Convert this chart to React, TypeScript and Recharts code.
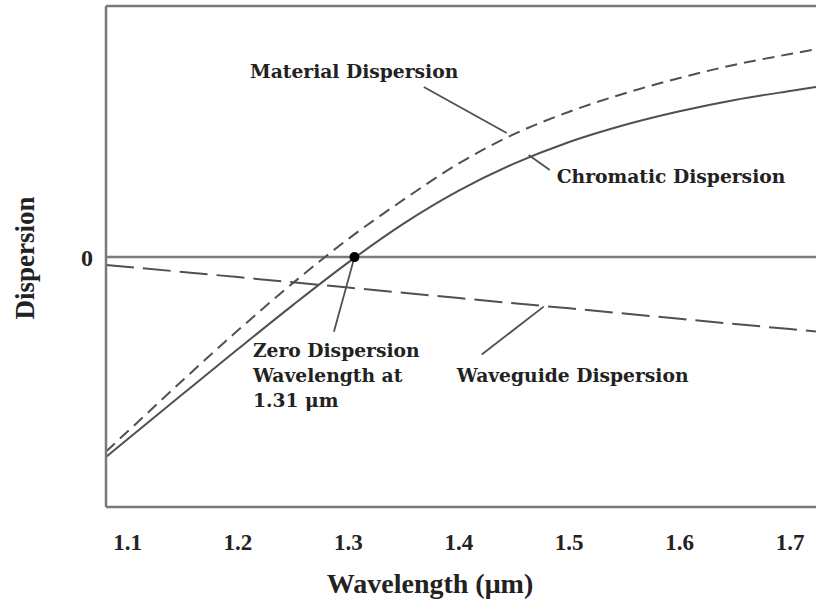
import {
  LineChart,
  Line,
  XAxis,
  YAxis,
  ReferenceLine,
  ReferenceDot,
  Label,
} from "recharts";

// wavelength grid (µm) and curves (arbitrary dispersion units)
const wavelengths = [1.0805, 1.1, 1.15, 1.2, 1.25, 1.3, 1.35, 1.4, 1.45, 1.5, 1.55, 1.6, 1.65, 1.7, 1.7235];
const material = [-7.78, -6.98, -4.93, -2.93, -1.03, 0.73, 2.3, 3.75, 4.92, 5.82, 6.55, 7.17, 7.7, 8.13, 8.32];
const chromatic = [-8.0, -7.29, -5.48, -3.68, -1.91, -0.21, 1.34, 2.66, 3.74, 4.61, 5.29, 5.84, 6.29, 6.65, 6.81];

const waveguideX = [1.0805, 1.2, 1.3, 1.4, 1.5, 1.6, 1.7, 1.7235];
const waveguide = [-0.31, -0.8, -1.22, -1.64, -2.05, -2.47, -2.88, -2.98];

const xTicks = [1.1, 1.2, 1.3, 1.4, 1.5, 1.6, 1.7];
const xDomain = [1.0805, 1.7235];
const yDomain = [-10, 10.05];

const zeroPoint = { x: 1.3055, y: 0 };

// leader lines from labels to curves
const leaders = [
  [{ x: 1.3683, y: 6.81 }, { x: 1.4434, y: 4.97 }],
  [{ x: 1.4633, y: 4.09 }, { x: 1.4824, y: 3.49 }],
  [{ x: 1.3055, y: 0 }, { x: 1.2869, y: -2.99 }],
  [{ x: 1.4208, y: -3.9 }, { x: 1.4769, y: -1.98 }],
];

// annotation text, anchored at left baseline
const notes = [
  { text: "Material Dispersion", x: 1.2109, y: 7.17 },
  { text: "Chromatic Dispersion", x: 1.4887, y: 2.97 },
  { text: "Zero Dispersion", x: 1.2136, y: -3.99 },
  { text: "Wavelength at", x: 1.2136, y: -4.99 },
  { text: "1.31 \u03bcm", x: 1.2136, y: -5.99 },
  { text: "Waveguide Dispersion", x: 1.3982, y: -4.99 },
];

const materialData = wavelengths.map((x, i) => ({ x, v: material[i] }));
const chromaticData = wavelengths.map((x, i) => ({ x, v: chromatic[i] }));
const waveguideData = waveguideX.map((x, i) => ({ x, v: waveguide[i] }));

const serif = "'Liberation Serif', 'Times New Roman', serif";
const noteFont = "'DejaVu Serif', serif";
const lineColor = "#505050";
const frameColor = "#7a7a7a";

export default function App() {
  return (
    <div style={{ width: 816, height: 604, background: "#fff" }}>
      <style>{"body{margin:0}"}</style>
      <LineChart
        width={816}
        height={604}
        margin={{ top: 6, right: 0, bottom: 0, left: 0 }}
      >
        <XAxis
          type="number"
          dataKey="x"
          domain={xDomain}
          ticks={xTicks}
          allowDataOverflow
          tickFormatter={(v: number) => v.toFixed(1)}
          tickLine={false}
          tickMargin={21}
          height={97}
          axisLine={{ stroke: frameColor, strokeWidth: 2.5 }}
          tick={{ fontFamily: serif, fontWeight: 700, fontSize: 23, fill: "#222" }}
        >
          <Label
            content={() => (
              <text
                x={430}
                y={593}
                textAnchor="middle"
                fontFamily={serif}
                fontWeight={700}
                fontSize={28}
                fill="#222"
              >
                {"Wavelength (\u03bcm)"}
              </text>
            )}
          />
        </XAxis>
        <YAxis
          type="number"
          domain={yDomain}
          ticks={[0]}
          allowDataOverflow
          width={106}
          tickLine={false}
          tickMargin={7}
          axisLine={{ stroke: frameColor, strokeWidth: 2.5 }}
          tick={{ fontFamily: serif, fontWeight: 700, fontSize: 24, fill: "#222" }}
        >
          <Label
            content={() => (
              <text
                x={25}
                y={258}
                transform="rotate(-90, 25, 258)"
                textAnchor="middle"
                dominantBaseline="central"
                fontFamily={serif}
                fontWeight={700}
                fontSize={27}
                fill="#222"
              >
                Dispersion
              </text>
            )}
          />
        </YAxis>

        <ReferenceLine y={yDomain[1]} stroke={frameColor} strokeWidth={2.5} />
        <ReferenceLine y={0} stroke={frameColor} strokeWidth={2.5} />

        {leaders.map((seg, i) => (
          <ReferenceLine key={i} segment={seg} stroke={lineColor} strokeWidth={1.8} />
        ))}

        <Line
          data={materialData}
          dataKey="v"
          type="monotone"
          stroke={lineColor}
          strokeWidth={2}
          strokeDasharray="12 7"
          dot={false}
          isAnimationActive={false}
        />
        <Line
          data={chromaticData}
          dataKey="v"
          type="monotone"
          stroke={lineColor}
          strokeWidth={2}
          dot={false}
          isAnimationActive={false}
        />
        <Line
          data={waveguideData}
          dataKey="v"
          type="linear"
          stroke={lineColor}
          strokeWidth={2}
          strokeDasharray="28 9"
          dot={false}
          isAnimationActive={false}
        />

        <ReferenceDot x={zeroPoint.x} y={zeroPoint.y} r={5} fill="#000" stroke="none" />

        {notes.map((n) => (
          <ReferenceDot
            key={n.text}
            x={n.x}
            y={n.y}
            r={0.01}
            fill="none"
            stroke="none"
            label={{
              content: (p: any) => (
                <text
                  x={p.viewBox.x}
                  y={p.viewBox.y}
                  fontFamily={noteFont}
                  fontWeight={700}
                  fontSize={18.7}
                  fill="#222"
                >
                  {n.text}
                </text>
              ),
            }}
          />
        ))}
      </LineChart>
    </div>
  );
}
